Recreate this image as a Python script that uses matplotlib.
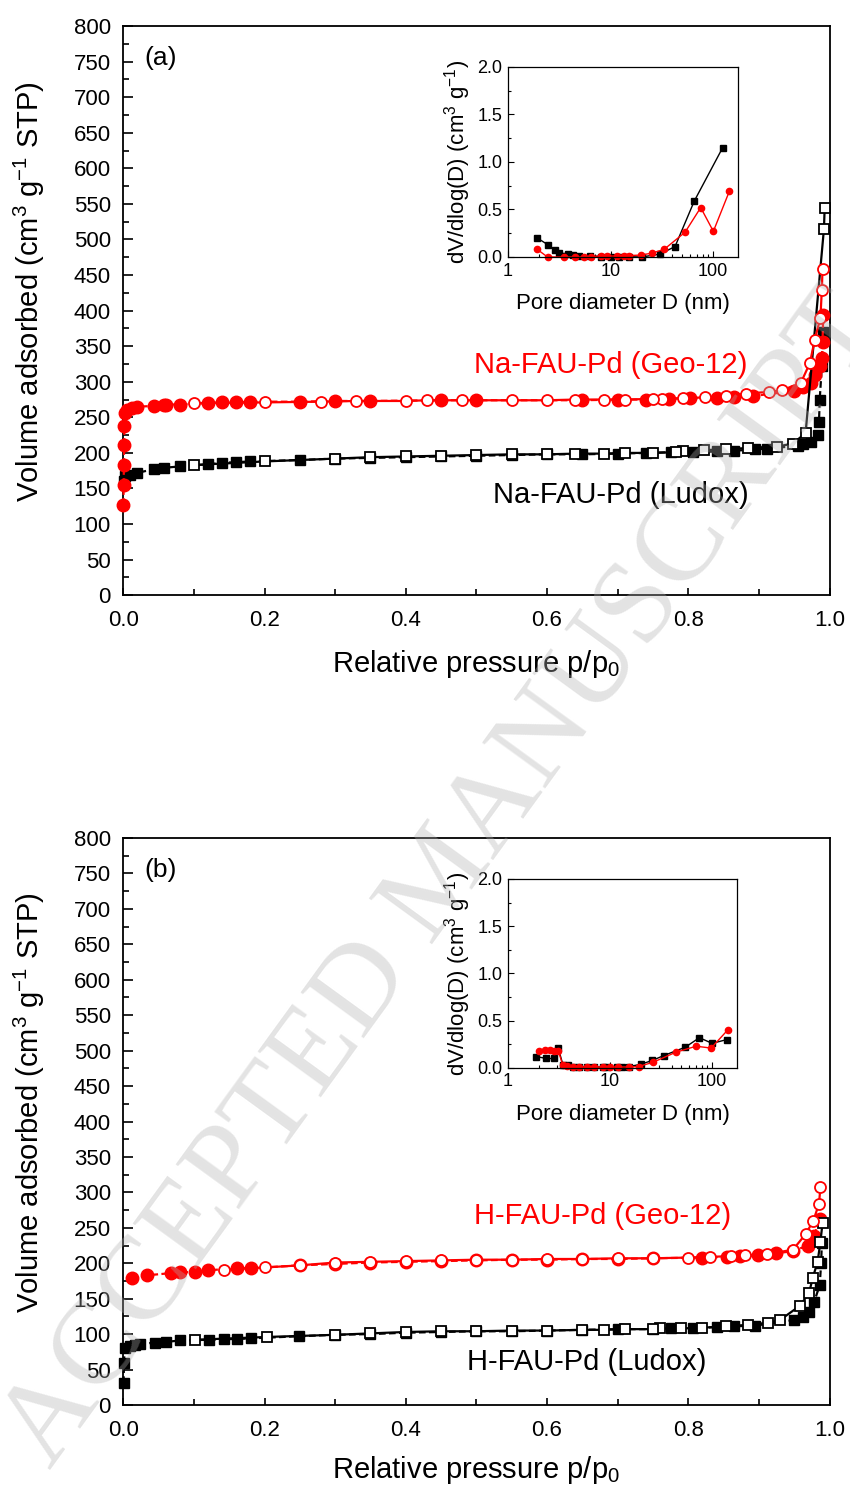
import numpy as np
import matplotlib
matplotlib.use('Agg')
import matplotlib.pyplot as plt
from matplotlib.ticker import MultipleLocator, FormatStrFormatter, FixedLocator, NullFormatter

plt.rcParams['font.family'] = ['Liberation Sans', 'DejaVu Sans']
plt.rcParams['mathtext.default'] = 'regular'

# ---- panel (a): Na-FAU-Pd ----
na_geo_ads_p = [0.0003, 0.0006, 0.0009, 0.0012, 0.0016, 0.002, 0.006, 0.012, 0.02, 0.043, 0.057, 0.061,
                0.08, 0.12, 0.14, 0.16, 0.18, 0.25, 0.30, 0.35, 0.45, 0.50, 0.65, 0.70, 0.74, 0.772,
                0.803, 0.841, 0.864, 0.892, 0.949, 0.962, 0.973, 0.980, 0.986, 0.989, 0.990, 0.991]
na_geo_ads_v = [127, 155, 183, 211, 238, 256, 260, 263, 265, 266, 267, 268,
                268, 270, 271, 271, 272, 272, 273, 273, 274, 274, 274, 275, 275, 276,
                277, 277, 278, 280, 287, 293, 298, 309, 322, 333, 356, 394]
na_geo_des_p = [0.990, 0.989, 0.987, 0.979, 0.972, 0.959, 0.932, 0.914, 0.881, 0.854, 0.823, 0.793,
                0.763, 0.75, 0.71, 0.68, 0.64, 0.60, 0.55, 0.48, 0.43, 0.40, 0.33, 0.28, 0.20, 0.10]
na_geo_des_v = [459, 429, 390, 359, 326, 298, 288, 286, 283, 280, 278, 277,
                276, 276, 275, 275, 275, 274, 274, 274, 274, 273, 273, 272, 271, 270]

na_lud_ads_p = [0.0005, 0.003, 0.01, 0.02, 0.043, 0.057, 0.08, 0.12, 0.14, 0.16, 0.18, 0.25,
                0.30, 0.35, 0.40, 0.45, 0.50, 0.55, 0.60, 0.65, 0.70, 0.74, 0.775, 0.806, 0.841,
                0.864, 0.895, 0.912, 0.955, 0.963, 0.973, 0.983, 0.985, 0.986, 0.989, 0.990]
na_lud_ads_v = [160, 167, 169, 172, 177, 179, 181, 184, 186, 187, 188, 190,
                192, 193, 194, 195, 196, 197, 198, 198, 199, 200, 201, 201, 202,
                203, 205, 206, 210, 212, 215, 225, 244, 275, 322, 370]
na_lud_des_p = [0.993, 0.992, 0.966, 0.948, 0.926, 0.884, 0.854, 0.822, 0.793, 0.782, 0.75, 0.71,
                0.68, 0.64, 0.60, 0.55, 0.50, 0.45, 0.40, 0.35, 0.30, 0.20, 0.10]
na_lud_des_v = [544, 515, 228, 213, 209, 207, 205, 204, 202, 201, 200, 200,
                199, 199, 198, 198, 197, 196, 195, 194, 192, 188, 183]

# ---- panel (b): H-FAU-Pd ----
h_geo_ads_p = [0.012, 0.034, 0.067, 0.081, 0.102, 0.12, 0.161, 0.181, 0.25, 0.30, 0.35, 0.40, 0.45,
               0.50, 0.55, 0.60, 0.65, 0.70, 0.75, 0.82, 0.855, 0.873, 0.898, 0.924, 0.948, 0.969,
               0.978, 0.986]
h_geo_ads_v = [179, 183, 186, 187, 188, 190, 193, 193, 197, 199, 201, 202, 203,
               204, 205, 205, 206, 206, 207, 208, 209, 210, 211, 214, 217, 225,
               238, 263]
h_geo_des_p = [0.987, 0.985, 0.977, 0.966, 0.948, 0.912, 0.88, 0.86, 0.83, 0.80, 0.75, 0.70,
               0.65, 0.60, 0.55, 0.50, 0.45, 0.40, 0.35, 0.30, 0.25, 0.20, 0.142]
h_geo_des_v = [307, 284, 260, 241, 219, 213, 211, 210, 209, 208, 207, 207,
               206, 206, 205, 205, 204, 203, 202, 201, 197, 194, 191]

h_lud_ads_p = [0.0005, 0.001, 0.002, 0.01, 0.017, 0.024, 0.045, 0.06, 0.081, 0.122, 0.142, 0.161,
               0.181, 0.249, 0.30, 0.35, 0.40, 0.45, 0.50, 0.55, 0.60, 0.65, 0.70, 0.75, 0.775,
               0.806, 0.84, 0.865, 0.895, 0.95, 0.962, 0.971, 0.978, 0.986, 0.988, 0.989]
h_lud_ads_v = [31, 59, 80, 83, 85, 86, 88, 89, 91, 92, 93, 93,
               94, 97, 99, 100, 102, 103, 104, 104, 105, 106, 107, 107, 108,
               108, 110, 111, 112, 120, 124, 131, 145, 169, 200, 228]
h_lud_des_p = [0.990, 0.987, 0.983, 0.976, 0.971, 0.958, 0.93, 0.913, 0.884, 0.853, 0.82, 0.79,
               0.76, 0.75, 0.71, 0.68, 0.65, 0.60, 0.55, 0.50, 0.45, 0.40, 0.35, 0.30, 0.204, 0.102]
h_lud_des_v = [257, 230, 202, 179, 158, 140, 120, 116, 113, 111, 109, 108,
               108, 107, 107, 106, 106, 105, 105, 104, 104, 103, 101, 99, 96, 92]

# ---- insets: pore size distributions ----
psd_a_lud_d = [1.93, 2.44, 2.88, 3.17, 3.88, 4.34, 4.97, 6.3, 8.0, 10.0, 12.0, 15.0, 20.1, 30.4, 42.6, 65.7, 124]
psd_a_lud_v = [0.20, 0.13, 0.07, 0.04, 0.035, 0.02, 0.015, 0.01, 0.005, 0.005, 0.003, 0.002, 0.0, 0.03, 0.11, 0.59, 1.15]
psd_a_geo_d = [1.93, 2.43, 3.5, 4.5, 5.5, 6.5, 8.0, 9.3, 11.6, 13.5, 15.3, 19.7, 25.2, 33.3, 53.3, 75.8, 100.7, 144]
psd_a_geo_v = [0.08, 0.0, 0.0, 0.0, 0.0, 0.005, 0.01, 0.01, 0.01, 0.01, 0.015, 0.02, 0.04, 0.08, 0.26, 0.52, 0.27, 0.69]

psd_b_lud_d = [1.90, 2.38, 2.80, 3.11, 3.45, 3.87, 4.34, 5.0, 6.0, 7.0, 8.5, 9.3, 11.6, 13.0, 15.5, 20.2, 26.0,
               33.4, 54.7, 75.0, 100, 139]
psd_b_lud_v = [0.12, 0.10, 0.10, 0.21, 0.035, 0.03, 0.01, 0.01, 0.01, 0.01, 0.01, 0.01, 0.01, 0.01, 0.015, 0.04,
               0.08, 0.13, 0.22, 0.32, 0.26, 0.30]
psd_b_geo_d = [2.01, 2.29, 2.56, 2.80, 3.11, 3.45, 3.8, 4.3, 5.0, 6.0, 7.0, 8.5, 10.0, 12.0, 15.5, 19.0, 26.4,
               43.8, 69.7, 97.8, 143]
psd_b_geo_v = [0.18, 0.19, 0.19, 0.18, 0.18, 0.03, 0.02, 0.01, 0.01, 0.01, 0.01, 0.01, 0.01, 0.01, 0.01, 0.015,
               0.06, 0.165, 0.23, 0.21, 0.405]

RED = '#ff0000'


def style_main(ax, tag, xpad):
    ax.set_xlim(0, 1.0)
    ax.set_ylim(0, 800)
    ax.xaxis.set_major_locator(MultipleLocator(0.2))
    ax.xaxis.set_minor_locator(MultipleLocator(0.1))
    ax.xaxis.set_major_formatter(FormatStrFormatter('%.1f'))
    ax.yaxis.set_major_locator(MultipleLocator(50))
    ax.yaxis.set_minor_locator(MultipleLocator(25))
    ax.tick_params(which='both', direction='in', top=False, right=False, labelsize=16, width=1.2)
    ax.tick_params(axis='y', which='major', length=7, pad=9)
    ax.tick_params(axis='y', which='minor', length=4)
    ax.tick_params(axis='x', which='major', length=5, pad=11)
    ax.tick_params(axis='x', which='minor', length=4)
    for s in ax.spines.values():
        s.set_linewidth(1.3)
    ax.set_xlabel('Relative pressure p/p$_0$', fontsize=21, labelpad=xpad)
    ax.set_ylabel('Volume adsorbed (cm$^3$ g$^{-1}$ STP)', fontsize=21)
    ax.yaxis.set_label_coords(-0.108, 0.533)
    ax.text(0.03, 0.965, tag, transform=ax.transAxes, fontsize=19, va='top')


def isotherm(ax, ads_p, ads_v, des_p, des_v, color, marker, ms):
    ax.plot(ads_p, ads_v, color=color, lw=1.6, ls=(0, (3, 1.5)), marker=marker,
            ms=ms, mfc=color, mec=color, zorder=3, clip_on=False)
    ax.plot(des_p, des_v, color=color, lw=1.6, ls='-', marker=marker,
            ms=ms * 0.88, mfc='white', mec=color, mew=1.3, zorder=4, clip_on=False)


def style_inset(ax):
    ax.set_xscale('log')
    ax.set_xlim(1, 175)
    ax.set_ylim(0, 2.0)
    ax.xaxis.set_major_locator(FixedLocator([1, 10, 100]))
    ax.xaxis.set_major_formatter(FormatStrFormatter('%g'))
    ax.xaxis.set_minor_locator(FixedLocator([2, 3, 4, 5, 6, 7, 8, 9, 20, 30, 40, 50, 60, 70, 80, 90]))
    ax.xaxis.set_minor_formatter(NullFormatter())
    ax.yaxis.set_major_locator(MultipleLocator(0.5))
    ax.yaxis.set_minor_locator(MultipleLocator(0.25))
    ax.yaxis.set_major_formatter(FormatStrFormatter('%.1f'))
    ax.tick_params(which='both', direction='in', top=False, right=False, labelsize=13, width=0.8)
    ax.tick_params(which='major', length=4, pad=4)
    ax.tick_params(which='minor', length=2)
    for s in ax.spines.values():
        s.set_linewidth(0.9)
    ax.set_xlabel('Pore diameter D (nm)', fontsize=16, labelpad=10)
    ax.set_ylabel('dV/dlog(D) (cm$^3$ g$^{-1}$)', fontsize=16, labelpad=3)


fig = plt.figure(figsize=(8.5, 14.88), dpi=100)

ax_a = fig.add_axes([0.145, 0.600, 0.831, 0.3825])
isotherm(ax_a, na_lud_ads_p, na_lud_ads_v, na_lud_des_p, na_lud_des_v, 'black', 's', 7.5)
isotherm(ax_a, na_geo_ads_p, na_geo_ads_v, na_geo_des_p, na_geo_des_v, RED, 'o', 9)
style_main(ax_a, '(a)', 12)
ax_a.text(0.69, 323, 'Na-FAU-Pd (Geo-12)', color=RED, fontsize=21, ha='center', va='center')
ax_a.text(0.704, 141, 'Na-FAU-Pd (Ludox)', color='black', fontsize=21, ha='center', va='center')

ax_b = fig.add_axes([0.145, 0.0558, 0.831, 0.381])
isotherm(ax_b, h_lud_ads_p, h_lud_ads_v, h_lud_des_p, h_lud_des_v, 'black', 's', 7.5)
isotherm(ax_b, h_geo_ads_p, h_geo_ads_v, h_geo_des_p, h_geo_des_v, RED, 'o', 9)
style_main(ax_b, '(b)', 9)
ax_b.text(0.678, 267, 'H-FAU-Pd (Geo-12)', color=RED, fontsize=21, ha='center', va='center')
ax_b.text(0.656, 61, 'H-FAU-Pd (Ludox)', color='black', fontsize=21, ha='center', va='center')

ins_a = fig.add_axes([0.5976, 0.8273, 0.2706, 0.1277])
ins_a.plot(psd_a_lud_d, psd_a_lud_v, color='black', lw=1.0, marker='s', ms=4, clip_on=False)
ins_a.plot(psd_a_geo_d, psd_a_geo_v, color=RED, lw=1.0, marker='o', ms=4.5, clip_on=False)
style_inset(ins_a)

ins_b = fig.add_axes([0.5976, 0.2823, 0.2694, 0.127])
ins_b.plot(psd_b_lud_d, psd_b_lud_v, color='black', lw=1.0, marker='s', ms=4, clip_on=False)
ins_b.plot(psd_b_geo_d, psd_b_geo_v, color=RED, lw=1.0, marker='o', ms=4.5, clip_on=False)
style_inset(ins_b)

# watermark
fig.text(50 / 850, 1 - 1470 / 1488, 'ACCEPTED MANUSCRIPT', fontsize=86, family='Liberation Serif',
         color='#b0b0b0', alpha=0.35, rotation=54, rotation_mode='anchor',
         ha='left', va='baseline', zorder=10)

fig.savefig('out.png', dpi=100)
